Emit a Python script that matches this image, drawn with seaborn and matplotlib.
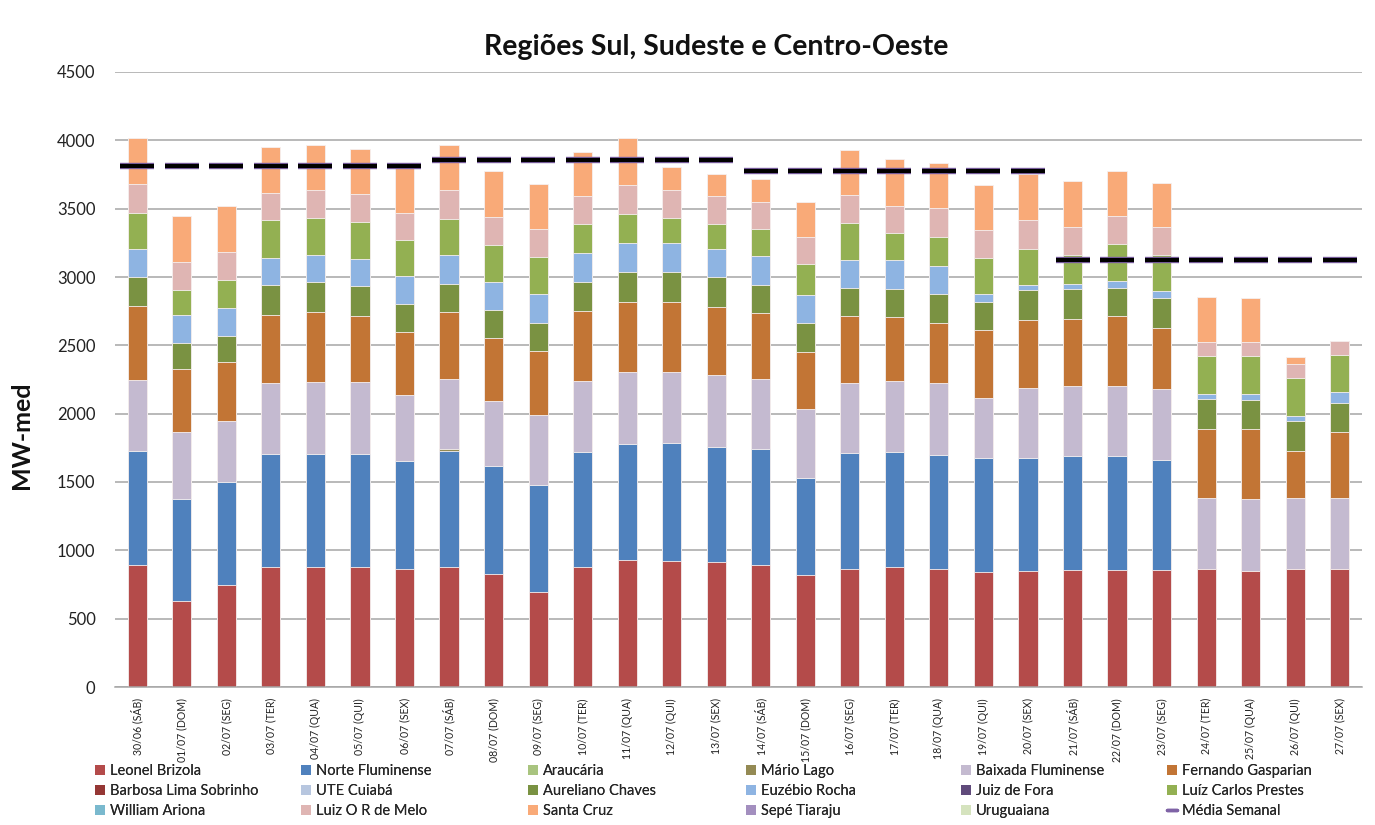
import matplotlib
matplotlib.use("Agg")
import matplotlib.pyplot as plt
import matplotlib.patheffects as pe
from matplotlib.lines import Line2D
from matplotlib.patches import Patch
import numpy as np
import seaborn as sns

# --- data (MW-med) ----------------------------------------------------------
dates = ["30/06 (SÁB)", "01/07 (DOM)", "02/07 (SEG)", "03/07 (TER)", "04/07 (QUA)",
         "05/07 (QUI)", "06/07 (SEX)", "07/07 (SÁB)", "08/07 (DOM)", "09/07 (SEG)",
         "10/07 (TER)", "11/07 (QUA)", "12/07 (QUI)", "13/07 (SEX)", "14/07 (SÁB)",
         "15/07 (DOM)", "16/07 (SEG)", "17/07 (TER)", "18/07 (QUA)", "19/07 (QUI)",
         "20/07 (SEX)", "21/07 (SÁB)", "22/07 (DOM)", "23/07 (SEG)", "24/07 (TER)",
         "25/07 (QUA)", "26/07 (QUI)", "27/07 (SEX)"]

leonel_brizola   = [895, 629, 743, 876, 876, 876, 862, 881, 827, 692, 876, 927, 922, 914,
                    895, 819, 862, 881, 862, 838, 846, 854, 854, 854, 865, 852, 862, 862]
norte_fluminense = [832, 746, 754, 832, 832, 832, 790, 846, 787, 789, 841, 849, 862, 841,
                    846, 708, 849, 836, 836, 841, 833, 835, 835, 806, 0, 0, 0, 0]
araucaria        = [0] * 28
mario_lago       = [0, 0, 0, 0, 0, 0, 0, 14, 0, 0, 0, 0, 0, 0,
                    0, 0, 0, 0, 0, 0, 0, 0, 0, 0, 0, 0, 0, 0]
baixada          = [516, 488, 450, 513, 524, 524, 485, 510, 482, 512, 523, 529, 521, 526,
                    510, 507, 513, 523, 523, 439, 512, 513, 513, 523, 521, 526, 524, 524]
fernando         = [545, 464, 434, 504, 510, 485, 464, 491, 459, 467, 513, 515, 515, 501,
                    483, 415, 493, 464, 445, 491, 494, 491, 515, 445, 501, 509, 339, 480]
barbosa          = [0] * 28
ute_cuiaba       = [0] * 28
aureliano        = [214, 187, 190, 217, 219, 215, 198, 209, 203, 206, 208, 217, 217, 220,
                    211, 217, 204, 209, 211, 209, 219, 217, 204, 219, 220, 212, 219, 211]
euzebio          = [206, 211, 201, 198, 198, 200, 211, 208, 203, 211, 212, 209, 209, 206,
                    206, 203, 203, 211, 206, 59, 41, 41, 49, 47, 38, 46, 41, 82]
juiz_de_fora     = [0] * 28
prestes          = [263, 177, 206, 277, 274, 271, 263, 266, 274, 271, 217, 217, 187, 182,
                    198, 225, 274, 198, 209, 263, 260, 208, 271, 265, 277, 277, 274, 271]
william_ariona   = [0] * 28
luiz_melo        = [212, 211, 208, 198, 201, 201, 198, 209, 201, 201, 201, 209, 201, 201,
                    201, 201, 201, 201, 212, 201, 212, 209, 203, 204, 105, 105, 106, 103]
santa_cruz       = [331, 331, 334, 333, 331, 334, 323, 331, 339, 331, 325, 342, 171, 165,
                    168, 252, 331, 341, 331, 331, 339, 334, 331, 325, 326, 318, 46, 0]
sepe_tiaraju     = [0] * 28
uruguaiana       = [0] * 28

media_semanal = [3813, 3813, 3813, 3813, 3813, 3813, 3813,
                 3859, 3859, 3859, 3859, 3859, 3859, 3859,
                 3772, 3772, 3772, 3772, 3772, 3772, 3772,
                 3127, 3127, 3127, 3127, 3127, 3127, 3127]

series = [
    ("Leonel Brizola",        leonel_brizola,   "#B44B4A"),
    ("Norte Fluminense",      norte_fluminense, "#4F81BD"),
    ("Araucária",             araucaria,        "#A9C47F"),
    ("Mário Lago",            mario_lago,       "#948A54"),
    ("Baixada Fluminense",    baixada,          "#C4BAD0"),
    ("Fernando Gasparian",    fernando,         "#C27535"),
    ("Barbosa Lima Sobrinho", barbosa,          "#953735"),
    ("UTE Cuiabá",            ute_cuiaba,       "#B7C6DF"),
    ("Aureliano Chaves",      aureliano,        "#7A9242"),
    ("Euzébio Rocha",         euzebio,          "#8EB4E2"),
    ("Juiz de Fora",          juiz_de_fora,     "#604A7B"),
    ("Luíz Carlos Prestes",   prestes,          "#93B052"),
    ("William Ariona",        william_ariona,   "#7AB9CE"),
    ("Luiz O R de Melo",      luiz_melo,        "#DFB5B3"),
    ("Santa Cruz",            santa_cruz,       "#F9AA78"),
    ("Sepé Tiaraju",          sepe_tiaraju,     "#A38FBF"),
    ("Uruguaiana",            uruguaiana,       "#D5E3BE"),
]
media_color = "#7F63A6"

# --- figure -------------------------------------------------------------------
sns.set_theme(style="white")
plt.rcParams["font.family"] = ["Lato", "DejaVu Sans"]

W, H = 1375, 825
fig = plt.figure(figsize=(W / 100, H / 100), dpi=100)
ax = fig.add_axes([115 / W, 1 - 687 / H, 1247 / W, 615 / H])

values = np.array([s[1] for s in series], dtype=float)
tops = values.cumsum(axis=0)

# stacked bars: draw cumulative totals from top series down so lower ones overlay
for i in range(len(series) - 1, -1, -1):
    if values[i].sum() == 0:
        continue
    sns.barplot(x=dates, y=tops[i], color=series[i][2], saturation=1, width=0.43,
                edgecolor="#F6F0F0", linewidth=0.6, ax=ax, zorder=2)

# weekly average dashes
sns.scatterplot(x=dates, y=media_semanal, marker="_", s=600, color="black",
                linewidth=3.0, ax=ax, zorder=5, legend=False)
ax.collections[-1].set_path_effects([pe.Stroke(linewidth=4.6, foreground=media_color),
                                     pe.Normal()])

ax.set_xlim(-0.5, len(dates) - 0.5)
ax.set_ylim(0, 4500)
ax.set_yticks(range(0, 4501, 500))
ax.yaxis.grid(True, color="#A6A6A6", linewidth=1.1)
ax.set_axisbelow(True)
for side in ("left", "right", "top"):
    ax.spines[side].set_visible(False)
ax.spines["bottom"].set_color("#A6A6A6")
ax.spines["bottom"].set_linewidth(1.1)
ax.tick_params(axis="y", length=0, pad=14, labelsize=12, labelcolor="#222222")
ax.tick_params(axis="x", length=0, pad=8, labelsize=7.6, labelcolor="#222222")
ax.set_xticks(range(len(dates)))
ax.set_xticklabels(dates, rotation=90, va="top", ha="center")
ax.set_xlabel("")
ax.set_ylabel("")

fig.text(716 / W, 1 - 47 / H, "Regiões Sul, Sudeste e Centro-Oeste",
         ha="center", va="center", fontsize=20.5, fontweight="bold", color="#111111")
fig.text(22 / W, 1 - 435 / H, "MW-med", rotation=90, ha="center", va="center",
         fontsize=18, fontweight="bold", color="#111111")

# legend: 6 fixed-width columns at the bottom edge
handles = [Patch(facecolor=c, edgecolor="none") for _, _, c in series]
handles.append(Line2D([], [], color=media_color, lw=2.5))
labels = [n for n, _, _ in series] + ["Média Semanal"]
col_x = [95, 301, 528, 746, 961, 1167]
for j, x in enumerate(col_x):
    idx = [j, j + 6, j + 12]
    leg = fig.legend([handles[k] for k in idx], [labels[k] for k in idx],
                     loc="upper left", bbox_to_anchor=(x / W, 1 - 764 / H),
                     frameon=False, fontsize=10.5, handlelength=0.7, handleheight=0.7,
                     handletextpad=0.3, labelspacing=0.42, borderpad=0, borderaxespad=0)
    fig.add_artist(leg)

fig.savefig("out.png", dpi=100)
